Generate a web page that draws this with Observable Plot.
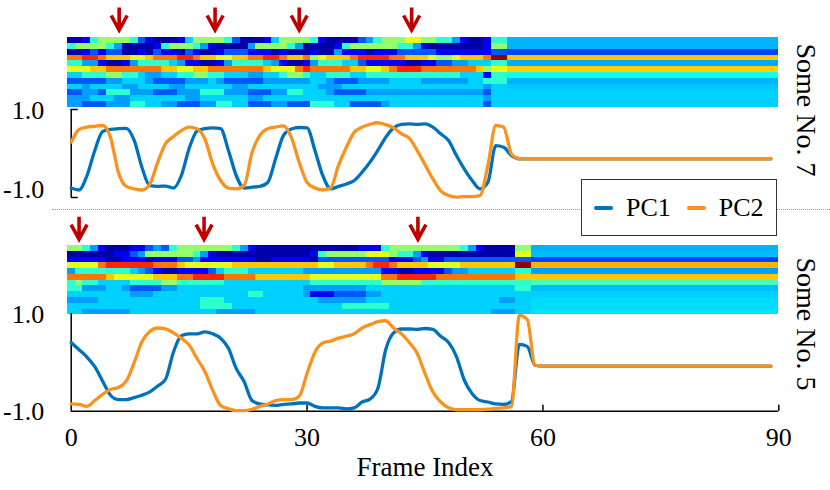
<!DOCTYPE html>
<html>
<head>
<meta charset="utf-8">
<script src="https://cdn.jsdelivr.net/npm/d3@7"></script>
<script src="https://cdn.jsdelivr.net/npm/@observablehq/plot@0.6"></script>
<style>
  html, body { margin: 0; padding: 0; background: #fff; }
  #fig { position: relative; width: 830px; height: 490px; overflow: hidden;
         font-family: "Liberation Serif", "Times New Roman", serif; color: #000; }
  #fig svg { position: absolute; left: 0; top: 0; }
  #sep { position: absolute; left: 52px; top: 209px; width: 778px; height: 0;
         border-top: 1.2px dotted #9a9a9a; }
  #legend { position: absolute; left: 581px; top: 179px; width: 196px; height: 57px;
            box-sizing: border-box; border: 1.3px solid #333; background: #fff;
            display: flex; align-items: center; padding-left: 12px; font-size: 26px; }
  #legend .sw { display: inline-block; width: 19px; height: 4px; border-radius: 2px; }
</style>
</head>
<body>
<div id="fig"><div id="sep"></div></div>
<script>
// ---------------- data ----------------
const BLUE = "#0072bd", ORANGE = "#f7931e", ARROW = "#c00000";
const seriesNames = ["PC1", "PC2"];
const xTicks = [0, 30, 60, 90];
const yTicks = [-1, 1];
const flatEnd = 89;

// arrow markers (frame index)
const topArrowFrames = [6.1, 18.3, 29.0, 43.3];
const bottomArrowFrames = [1.0, 16.9, 44.1];

// heat-map level code -> value on the jet scale
const levelOf = {"0":0.04,"1":0.12,"2":0.21,"3":0.28,"4":0.33,"5":0.42,"6":0.52,"7":0.60,"8":0.68,"9":0.76,"A":0.84,"B":0.98};

// Some No. 7 heat map: 12 rows, frames 0..55, then constant tail
const topHeatRows = [
  "0015666652 1000146666 52000146 6665100002 3566677665 53100155",
  "5666653000 0156665310 00036666 5300001566 6666553100 00000166",
  "0012122001 0211021001 22211101 0001003111 0111222221 11111122",
  "99AA988877 8999AA9887 78899AA9 889678889A AAA9988876 678889BB",
  "5533100135 5554311001 35555431 0013555442 1111100112 23344455",
  "7778899999 9988778899 99999877 79A9999988 7789AAA999 99998677",
  "4455566554 3344556655 44433445 6654455544 5555555555 55444155",
  "2222233444 3222233343 22222333 3334432223 3334444333 33344555",
  "4434444334 4443344444 43344444 4444333444 4444444444 44444344",
  "2233255533 3222333555 33322233 5544432222 3333333333 33333244",
  "3334443344 4444433444 44433444 4444444444 4444444444 44444344",
  "3322233355 4433222335 54422233 2225554422 2234444444 44444244"
];
const topTailStart = 56;
const topTail = [0.30, 0.30, 0.19, 0.68, 0.29, 0.67, 0.39, 0.30, 0.32, 0.33, 0.33, 0.33];

// Some No. 5 heat map: 12 rows, frames 0..58, then constant tail
const botHeatRows = [
  "6653100011 2325666666 65310000 0000000001 1156666666 665310000 66",
  "0000001123 6666665310 00000000 0001566666 7776553100 000000000 77",
  "1111100111 0111223111 11110011 1110222222 2221112311 222222222 22",
  "77779AAAAA A999877777 78888888 8888778888 9AA9888877 778888888 BB",
  "3555555543 2100111124 55544444 4433333333 3311001111 233444444 55",
  "9999987777 788899AAAA 99998888 8887777777 7799AAAAA9 999999999 88",
  "5655444455 5566555555 44444444 4445555555 5566666555 555555555 55",
  "5533344322 2233444444 44444444 4433333333 4444444444 444444444 55",
  "4444444433 3444444444 44455444 4431112222 3344444444 444444444 44",
  "3333444444 4444444555 44444444 4444333333 4444444444 444444433 44",
  "4444444444 4444444555 54444444 4444444555 5554444444 444444444 44",
  "4433333344 4444444443 33334444 4444444444 4444444444 444444333 44"
];
const botTailStart = 59;
const botTail = [0.30, 0.31, 0.19, 0.70, 0.28, 0.68, 0.44, 0.31, 0.33, 0.34, 0.34, 0.35];

// principal components, one value per frame
const topPC1 = [-0.96,-1.01,-0.65,-0.01,0.47,0.52,0.54,0.55,0.25,-0.44,
  -0.90,-0.92,-0.91,-0.96,-0.65,0.04,0.48,0.54,0.56,0.54,
  -0.01,-0.65,-0.96,-0.94,-0.92,-0.82,-0.22,0.37,0.53,0.57,
  0.56,-0.01,-0.65,-0.98,-0.92,-0.86,-0.77,-0.56,-0.31,-0.01,
  0.32,0.56,0.65,0.66,0.65,0.66,0.58,0.41,0.24,-0.14,
  -0.48,-0.77,-0.98,-0.82,0.11,0.07,-0.14,-0.22];
const topPC2 = [0.20,0.52,0.58,0.60,0.62,0.32,-0.56,-0.92,-0.98,-1.01,
  -0.86,-0.31,0.16,0.34,0.49,0.58,0.54,0.28,-0.35,-0.77,
  -0.96,-0.98,-0.90,-0.06,0.37,0.54,0.58,0.61,0.32,-0.31,
  -0.82,-0.96,-1.01,-0.96,-0.39,0.07,0.45,0.58,0.65,0.69,
  0.64,0.56,0.41,0.30,-0.01,-0.37,-0.73,-1.03,-1.15,-1.19,
  -1.18,-1.18,-1.15,-0.39,0.62,0.58,-0.10,-0.22];
const topFlat = -0.22;

const botPC1 = [0.42,0.27,0.12,-0.08,-0.38,-0.67,-0.76,-0.76,-0.72,-0.67,
  -0.60,-0.48,-0.34,0.22,0.56,0.60,0.60,0.64,0.60,0.51,
  0.30,-0.12,-0.39,-0.78,-0.85,-0.87,-0.88,-0.86,-0.85,-0.83,
  -0.83,-0.90,-0.93,-0.93,-0.93,-0.95,-0.93,-0.81,-0.75,-0.53,
  0.27,0.62,0.70,0.70,0.69,0.71,0.69,0.55,0.42,0.13,
  -0.36,-0.64,-0.78,-0.81,-0.85,-0.86,-0.80,0.38,0.34,-0.05,-0.07];
const botPC2 = [-0.85,-0.86,-0.90,-0.78,-0.65,-0.55,-0.51,-0.38,0.00,0.44,
  0.65,0.72,0.70,0.62,0.51,0.37,0.09,-0.18,-0.57,-0.88,
  -0.95,-0.99,-0.99,-0.96,-0.90,-0.85,-0.78,-0.76,-0.76,-0.69,
  -0.22,0.22,0.41,0.45,0.51,0.55,0.60,0.72,0.79,0.85,
  0.87,0.72,0.60,0.42,0.20,-0.22,-0.60,-0.81,-0.93,-0.97,
  -0.97,-0.97,-0.97,-0.96,-0.94,-0.93,-0.90,0.98,0.90,-0.05,-0.07];
const botFlat = -0.07;

// ---------------- layout ----------------
const W = 830, H = 490, X0 = 70.7, X90 = 778.3;
const FONT = '"Liberation Serif", "Times New Roman", serif';

function jet(t) {
  const c = (x) => Math.max(0, Math.min(1, x));
  const r = c(1.5 - Math.abs(4 * t - 3)), g = c(1.5 - Math.abs(4 * t - 2)), b = c(1.5 - Math.abs(4 * t - 1));
  return `rgb(${Math.round(r * 255)},${Math.round(g * 255)},${Math.round(b * 255)})`;
}

function base(top, bottom, opts) {
  return Object.assign({
    width: W, height: H,
    marginLeft: X0, marginRight: W - X90,
    marginTop: top, marginBottom: H - bottom,
    style: {background: "transparent", fontFamily: FONT, color: "#000", overflow: "visible"}
  }, opts);
}

function heatCells(rows, tail, tailStart) {
  const out = [];
  rows.forEach((s, r) => {
    [...s.replace(/\s/g, "")].forEach((ch, f) =>
      out.push({x1: f - 0.5, x2: f + 0.5, y1: r, y2: r + 1, v: levelOf[ch]}));
    out.push({x1: tailStart - 0.5, x2: 90, y1: r, y2: r + 1, v: tail[r]});
  });
  return out;
}

function series(vals, flat) {
  return vals.map((v, i) => ({f: i, v})).concat([{f: flatEnd, v: flat}]);
}

const arrowSymbol = {
  draw(ctx) {
    ctx.moveTo(0, -13); ctx.lineTo(0, 8);
    ctx.moveTo(-8, -5); ctx.lineTo(0, 9.5); ctx.lineTo(8, -5);
  }
};

function arrowPlot(frames, top, bottom) {
  return Plot.plot(base(top, bottom, {
    x: {domain: [0, 90], axis: null},
    marks: [Plot.dot(frames, {x: (d) => d, frameAnchor: "middle", symbol: arrowSymbol, r: 6,
      fill: "none", stroke: ARROW, strokeWidth: 3.6, strokeLinejoin: "miter"})]
  }));
}

function heatPlot(rows, tail, tailStart, top, bottom) {
  return Plot.plot(base(top, bottom, {
    x: {domain: [0, 90], axis: null},
    y: {domain: [0, 12], reverse: true, axis: null},
    color: {type: "linear", domain: [0, 1], interpolate: jet},
    marks: [Plot.rect(heatCells(rows, tail, tailStart),
      {x1: "x1", x2: "x2", y1: "y1", y2: "y2", fill: "v", shapeRendering: "crispEdges"})]
  }));
}

function labelPlot(text, top, bottom) {
  return Plot.plot(base(top, bottom, {
    x: {domain: [0, 90], axis: null},
    marks: [Plot.text([text], {text: (d) => d, frameAnchor: "right", dx: 27, rotate: 90,
      fontSize: 28, textAnchor: "middle", lineAnchor: "middle", fill: "#000"})]
  }));
}

const fig = document.getElementById("fig");
const add = (el) => fig.appendChild(el);

// Top panel (Some No. 7)
add(arrowPlot(topArrowFrames, 6.7, 33.3));
add(heatPlot(topHeatRows, topTail, topTailStart, 37.3, 106.7));
const yTopDomain = [-1.2, 1.025];
add(Plot.plot(base(109, 197, {
  x: {domain: [0, 90], axis: null},
  y: {domain: yTopDomain},
  marks: [
    Plot.ruleX([0], {stroke: "#000", strokeWidth: 1.5}),
    Plot.ruleY(yTopDomain, {x1: 0, x2: 0.9, stroke: "#000", strokeWidth: 1.5}),
    Plot.line(series(topPC1, topFlat), {x: "f", y: "v", stroke: BLUE, strokeWidth: 3.3, curve: "monotone-x"}),
    Plot.line(series(topPC2, topFlat), {x: "f", y: "v", stroke: ORANGE, strokeWidth: 3.3, curve: "monotone-x"}),
    Plot.axisY({ticks: yTicks, tickSize: 0, tickPadding: 27, tickFormat: (d) => d.toFixed(1), fontSize: 26, label: null})
  ]
})));
add(labelPlot("Some No. 7", 42, 177));

// Bottom panel (Some No. 5)
add(arrowPlot(bottomArrowFrames, 216.7, 241.7));
add(heatPlot(botHeatRows, botTail, botTailStart, 245, 314.3));
const yBotDomain = [-1, 1.02];
add(Plot.plot(base(313, 410.7, {
  x: {domain: [0, 90]},
  y: {domain: yBotDomain},
  marks: [
    Plot.ruleX([0], {stroke: "#000", strokeWidth: 1.5}),
    Plot.ruleY([-1], {stroke: "#000", strokeWidth: 1.5}),
    Plot.ruleX(xTicks.slice(1), {y1: -1, y2: -0.875, stroke: "#000", strokeWidth: 1.5}),
    Plot.line(series(botPC1, botFlat), {x: "f", y: "v", stroke: BLUE, strokeWidth: 3.3, curve: "monotone-x"}),
    Plot.line(series(botPC2, botFlat), {x: "f", y: "v", stroke: ORANGE, strokeWidth: 3.3, curve: "monotone-x"}),
    Plot.axisY({ticks: yTicks, tickSize: 0, tickPadding: 27, tickFormat: (d) => d.toFixed(1), fontSize: 26, label: null}),
    Plot.axisX({ticks: xTicks, tickSize: 0, tickPadding: 16, fontSize: 26, label: null, tickFormat: (d) => String(d)}),
    Plot.text(["Frame Index"], {text: (d) => d, x: 45, frameAnchor: "bottom", dy: 56, fontSize: 27, lineAnchor: "middle", fill: "#000"})
  ]
})));
add(labelPlot("Some No. 5", 257, 390));

// Legend
const legend = document.createElement("div");
legend.id = "legend";
const colors = {PC1: BLUE, PC2: ORANGE};
legend.innerHTML = seriesNames.map((n, i) =>
  `<span class="sw" style="background:${colors[n]};margin-left:${i ? 16 : 0}px;margin-right:13px"></span><span>${n}</span>`
).join("");
fig.appendChild(legend);
</script>
</body>
</html>
